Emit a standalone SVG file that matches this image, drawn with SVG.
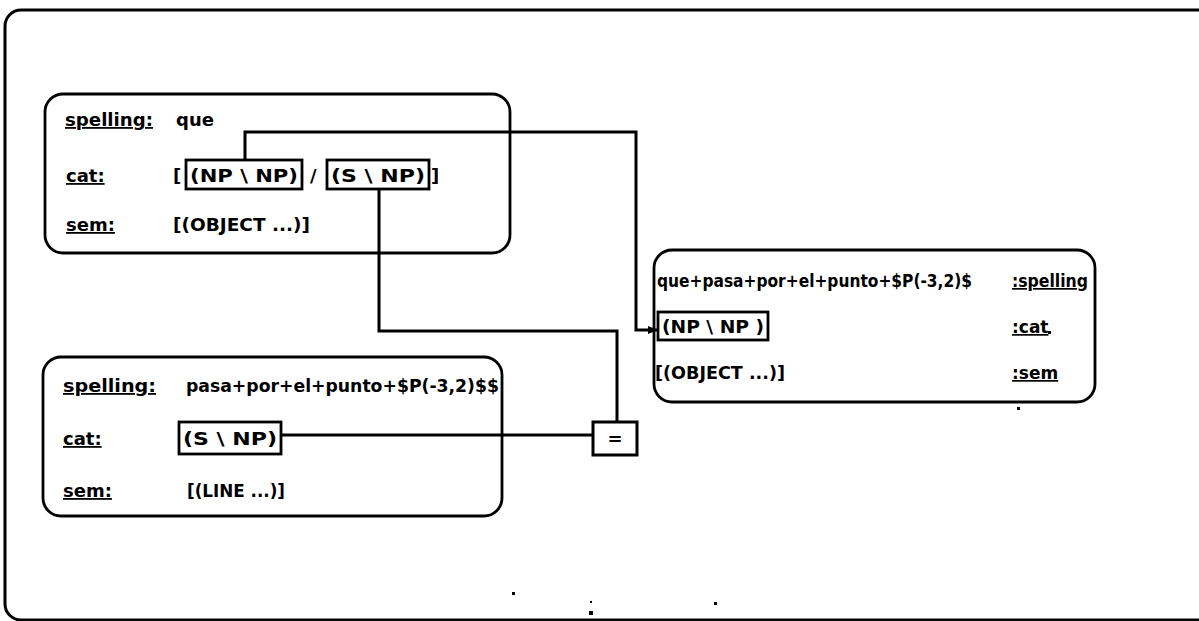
<svg xmlns="http://www.w3.org/2000/svg" width="1199" height="621" viewBox="0 0 1199 621">
<style>
.t{font-family:"DejaVu Sans","Liberation Sans",Arial,sans-serif;font-weight:bold;font-size:18px;fill:#000}
.s{font-size:17px}
.u{text-decoration:underline}
.box{fill:none;stroke:#000;stroke-width:2.8}
.ibox{fill:none;stroke:#000;stroke-width:2.8}
.c{fill:none;stroke:#000;stroke-width:3}
</style>
<defs>
<marker id="arr" markerWidth="10" markerHeight="10" refX="9" refY="5" orient="auto" markerUnits="userSpaceOnUse">
<path d="M0,1 L10,5 L0,9 Z" fill="#000"/>
</marker>
</defs>
<rect width="1199" height="621" fill="#fff"/>
<rect id="frame" x="5" y="10" width="1230" height="610" rx="16" fill="none" stroke="#000" stroke-width="3"/>

<g id="connectors">
<polyline class="c" points="245,160 245,132 636,132 636,330 657,330" marker-end="url(#arr)"/>
<polyline class="c" points="379,189 379,331 617,331 617,422"/>
<line class="c" x1="281" y1="435" x2="593" y2="435"/>
</g>

<g id="node-que">
<rect class="box" x="45" y="94" width="465" height="159" rx="18"/>
<text class="t u" x="65" y="126" textLength="88" lengthAdjust="spacingAndGlyphs">spelling:</text>
<text class="t" x="176" y="126">que</text>
<text class="t u" x="66" y="182">cat:</text>
<text class="t" x="173" y="182">[</text>
<rect class="ibox" x="186" y="160" width="116" height="29"/>
<text class="t" x="190" y="182" textLength="108" lengthAdjust="spacingAndGlyphs">(NP \ NP)</text>
<text class="t" x="310" y="182">/</text>
<rect class="ibox" x="327" y="160" width="102" height="29"/>
<text class="t" x="331" y="182" textLength="94" lengthAdjust="spacingAndGlyphs">(S \ NP)</text>
<text class="t" x="431" y="182">]</text>
<text class="t u" x="66" y="231">sem:</text>
<text class="t" x="173" y="231" textLength="137" lengthAdjust="spacingAndGlyphs">[(OBJECT ...)]</text>
</g>

<g id="node-pasa">
<rect class="box" x="43" y="357" width="459" height="159" rx="18"/>
<text class="t u" x="63" y="392" textLength="93" lengthAdjust="spacingAndGlyphs">spelling:</text>
<text class="t" x="186" y="392" textLength="313" lengthAdjust="spacingAndGlyphs">pasa+por+el+punto+$P(-3,2)$$</text>
<text class="t u" x="63" y="445">cat:</text>
<rect class="ibox" x="179" y="422" width="102" height="32"/>
<text class="t" x="183" y="445" textLength="94" lengthAdjust="spacingAndGlyphs">(S \ NP)</text>
<text class="t u" x="63" y="497">sem:</text>
<text class="t" x="187" y="497" textLength="98" lengthAdjust="spacingAndGlyphs">[(LINE ...)]</text>
</g>

<g id="node-eq">
<rect x="593" y="422" width="44" height="33" fill="#fff" stroke="#000" stroke-width="3"/>
<text class="t" x="615" y="445" font-size="16" text-anchor="middle">=</text>
</g>

<g id="node-result">
<rect class="box" x="654" y="250" width="441" height="152" rx="18"/>
<text class="t s" x="657" y="287" textLength="315" lengthAdjust="spacingAndGlyphs">que+pasa+por+el+punto+$P(-3,2)$</text>
<text class="t s u" x="1012" y="287" textLength="76" lengthAdjust="spacingAndGlyphs">:spelling</text>
<rect class="ibox" x="658" y="312" width="110" height="28"/>
<text class="t s" x="662" y="333" textLength="102" lengthAdjust="spacingAndGlyphs">(NP \ NP )</text>
<text class="t s u" x="1012" y="333">:cat</text>
<text class="t s" x="655" y="379" textLength="130" lengthAdjust="spacingAndGlyphs">[(OBJECT ...)]</text>
<text class="t s u" x="1012" y="379">:sem</text>
</g>

<g id="specks" fill="#000">
<rect x="1048" y="331" width="3" height="3"/>
<rect x="1017" y="407" width="3" height="3"/>
<rect x="512" y="592" width="3" height="3"/>
<rect x="589" y="611" width="4" height="4"/>
<rect x="590" y="601" width="2" height="2"/>
<rect x="714" y="602" width="3" height="3"/>
</g>
</svg>
